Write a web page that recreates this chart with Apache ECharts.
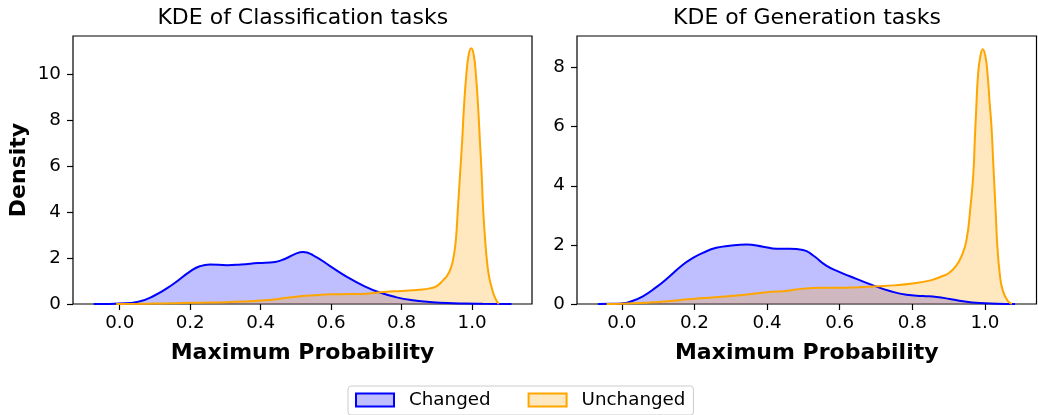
<!DOCTYPE html>
<html><head><meta charset="utf-8">
<script src="https://cdn.jsdelivr.net/npm/echarts@6/dist/echarts.min.js"></script>
<style>html,body{margin:0;padding:0;background:#fff}#c{width:1038px;height:415px}</style>
</head><body><div id="c"></div>
<script>
// ---- data (x = maximum probability, y = density) ----
const panelTitles = ['KDE of Classification tasks', 'KDE of Generation tasks'];
const seriesNames = ['Changed', 'Unchanged'];
const xTicks = [0, 0.2, 0.4, 0.6, 0.8, 1.0];
const yTicksCls = [0, 2, 4, 6, 8, 10];
const yTicksGen = [0, 2, 4, 6, 8];

const clsChanged = [[-0.074,0],[-0.04,0.003],[0,0.02],[0.05,0.09],[0.1,0.38],[0.15,0.85],[0.2,1.42],[0.227,1.64],[0.256,1.72],[0.305,1.69],[0.344,1.72],[0.393,1.78],[0.441,1.83],[0.47,1.97],[0.5,2.19],[0.52,2.26],[0.549,2.12],[0.598,1.64],[0.646,1.17],[0.695,0.77],[0.734,0.52],[0.783,0.30],[0.832,0.16],[0.88,0.09],[0.93,0.04],[0.98,0.02],[1.03,0.01],[1.112,0]];
const clsUnchanged = [[-0.01,0],[0.05,0.01],[0.1,0.02],[0.15,0.03],[0.2,0.05],[0.25,0.06],[0.3,0.08],[0.35,0.11],[0.4,0.15],[0.45,0.22],[0.5,0.32],[0.55,0.38],[0.6,0.42],[0.65,0.43],[0.7,0.45],[0.75,0.52],[0.8,0.57],[0.85,0.62],[0.88,0.68],[0.9,0.78],[0.918,1.04],[0.93,1.25],[0.941,1.62],[0.948,2.1],[0.954,2.79],[0.96,4.23],[0.966,5.69],[0.972,7.14],[0.977,8.59],[0.984,10.04],[0.991,10.9],[0.998,11.13],[1.005,10.8],[1.0105,10.04],[1.017,8.59],[1.022,7.14],[1.027,5.69],[1.031,4.23],[1.037,2.79],[1.044,1.62],[1.05,1.05],[1.055,0.75],[1.063,0.35],[1.071,0.1],[1.076,0]];
const genChanged = [[-0.066,0],[-0.03,0.005],[0,0.02],[0.021,0.07],[0.058,0.26],[0.095,0.57],[0.131,0.93],[0.168,1.33],[0.196,1.56],[0.223,1.73],[0.26,1.9],[0.297,1.97],[0.343,2.01],[0.389,1.94],[0.426,1.87],[0.462,1.87],[0.499,1.83],[0.527,1.64],[0.563,1.3],[0.6,1.08],[0.646,0.85],[0.692,0.63],[0.738,0.44],[0.784,0.31],[0.83,0.27],[0.867,0.24],[0.903,0.17],[0.94,0.09],[0.986,0.03],[1.032,0.01],[1.083,0]];
const genUnchanged = [[-0.042,0],[0,0.01],[0.05,0.03],[0.1,0.07],[0.15,0.12],[0.2,0.18],[0.25,0.22],[0.3,0.27],[0.35,0.33],[0.4,0.4],[0.45,0.44],[0.5,0.52],[0.55,0.55],[0.6,0.55],[0.65,0.57],[0.7,0.6],[0.75,0.63],[0.8,0.69],[0.85,0.8],[0.88,0.93],[0.9,1.04],[0.92,1.28],[0.935,1.6],[0.949,2.15],[0.96,3.27],[0.968,4.39],[0.972,5.52],[0.976,6.6],[0.981,7.75],[0.987,8.35],[0.994,8.62],[1.001,8.4],[1.007,7.8],[1.013,6.8],[1.018,6.0],[1.022,5.0],[1.026,4.0],[1.030,3.0],[1.034,2.0],[1.041,1.0],[1.049,0.46],[1.062,0.12],[1.074,0]];

// axis extents (matplotlib autoscale with margins)
const xRange = [[-0.1326, 1.170], [-0.1235, 1.142]];
const yMax = [11.66, 9.066];

const FONT = 'DejaVu Sans';
const BLUE = '#0000ff', ORANGE = '#ffa500';
const BLUE_FILL = 'rgba(0,0,255,0.25)', ORANGE_FILL = 'rgba(255,165,0,0.25)';

const chart = echarts.init(document.getElementById('c'), null, {renderer: 'canvas'});

const grids = [
  {left: 73, right: 506, top: 36, bottom: 111},
  {left: 577, right: 1.5, top: 36, bottom: 111}
].map(g => Object.assign(g, {show: true, borderColor: '#000', borderWidth: 1.2, backgroundColor: 'transparent', containLabel: false}));

function xAxis(i) {
  return {
    type: 'value', gridIndex: i, min: xRange[i][0], max: xRange[i][1], position: 'bottom',
    name: 'Maximum Probability', nameLocation: 'middle', nameGap: 38,
    nameTextStyle: {fontFamily: FONT, fontSize: 22, fontWeight: 'bold', color: '#000'},
    axisLine: {show: false, onZero: false}, splitLine: {show: false},
    axisTick: {show: true, length: 6, customValues: xTicks, lineStyle: {color: '#000', width: 1.2}},
    axisLabel: {show: true, customValues: xTicks, margin: 10, fontFamily: FONT, fontSize: 18.3, color: '#000',
      formatter: v => v.toFixed(1)}
  };
}
function yAxis(i, ticks, withName) {
  return {
    type: 'value', gridIndex: i, min: 0, max: yMax[i], position: 'left',
    name: withName ? 'Density' : '', nameLocation: 'middle', nameGap: 43, nameRotate: 90,
    nameTextStyle: {fontFamily: FONT, fontSize: 22, fontWeight: 'bold', color: '#000'},
    axisLine: {show: false, onZero: false}, splitLine: {show: false},
    axisTick: {show: true, length: 6, customValues: ticks, lineStyle: {color: '#000', width: 1.2}},
    axisLabel: {show: true, customValues: ticks, margin: 12, fontFamily: FONT, fontSize: 18.3, color: '#000',
      formatter: v => String(Math.round(v))}
  };
}
function kde(name, data, i, col, fill) {
  return {
    type: 'line', name: name, xAxisIndex: i, yAxisIndex: i, data: data,
    showSymbol: false, symbol: 'none', smooth: 0.5,
    lineStyle: {color: col, width: 2}, itemStyle: {color: col},
    areaStyle: {color: fill, opacity: 1}, silent: true, animation: false
  };
}

chart.setOption({
  animation: false,
  backgroundColor: '#fff',
  grid: grids,
  xAxis: [xAxis(0), xAxis(1)],
  yAxis: [yAxis(0, yTicksCls, true), yAxis(1, yTicksGen, false)],
  graphic: [
    {type: 'text', x: 302.8, y: 18, style: {text: panelTitles[0], font: '22px "DejaVu Sans"', fill: '#000', align: 'center', verticalAlign: 'middle', textAlign: 'center', textVerticalAlign: 'middle'}},
    {type: 'text', x: 807, y: 18, style: {text: panelTitles[1], font: '22px "DejaVu Sans"', fill: '#000', align: 'center', verticalAlign: 'middle', textAlign: 'center', textVerticalAlign: 'middle'}}
  ],
  legend: {
    show: true, left: 348, top: 386, orient: 'horizontal',
    itemWidth: 38, itemHeight: 13, itemGap: 37,
    padding: [5, 8, 6, 7],
    borderColor: '#cccccc', borderWidth: 1, borderRadius: 3, backgroundColor: '#fff',
    textStyle: {fontFamily: FONT, fontSize: 18.3, color: '#000', padding: [0, 0, 0, 10]},
    selectedMode: false,
    data: [
      {name: seriesNames[0], icon: 'rect', itemStyle: {color: BLUE_FILL, borderColor: BLUE, borderWidth: 2}},
      {name: seriesNames[1], icon: 'rect', itemStyle: {color: ORANGE_FILL, borderColor: ORANGE, borderWidth: 2}}
    ]
  },
  series: [
    kde(seriesNames[0], clsChanged, 0, BLUE, BLUE_FILL),
    kde(seriesNames[1], clsUnchanged, 0, ORANGE, ORANGE_FILL),
    kde(seriesNames[0], genChanged, 1, BLUE, BLUE_FILL),
    kde(seriesNames[1], genUnchanged, 1, ORANGE, ORANGE_FILL)
  ]
});
</script></body></html>
